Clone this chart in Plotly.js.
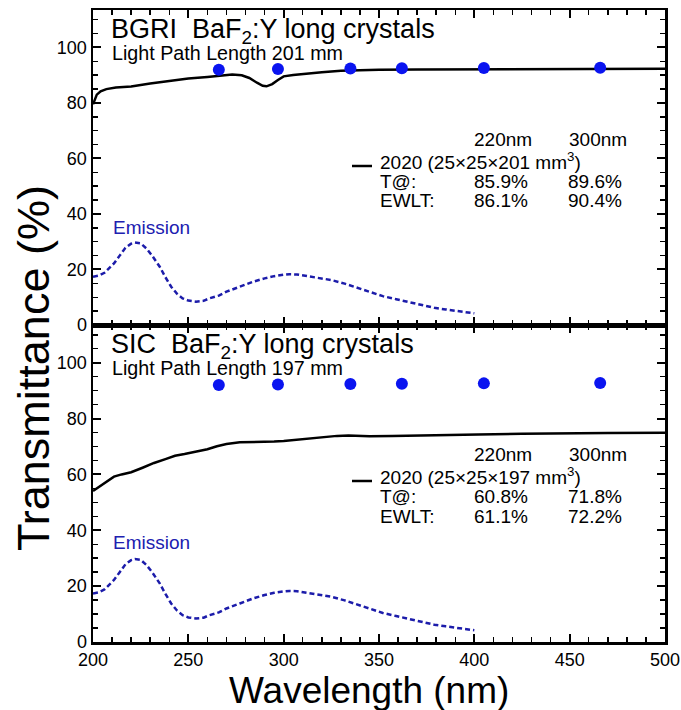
<!DOCTYPE html>
<html><head><meta charset="utf-8">
<script src="https://cdn.plot.ly/plotly-3.0.1.min.js"></script>
<style>body{margin:0;padding:0;background:#fff}</style>
</head><body><div id="chart" style="width:681px;height:710px"></div>
<script>
// Transmittance, BGRI crystal (top panel)
const wlTop = [200, 201, 202, 204, 207, 212, 220, 230, 240, 250, 260, 268, 273, 278, 282, 286, 289, 291, 294, 297, 300, 305, 310, 320, 330, 340, 350, 370, 400, 430, 460, 500];
const transTop = [79.5, 81.5, 83.0, 84.2, 85.0, 85.6, 85.9, 87.0, 88.0, 88.8, 89.4, 89.9, 90.3, 90.0, 89.0, 87.3, 86.2, 86.0, 86.8, 88.3, 89.6, 90.1, 90.5, 91.1, 91.6, 91.8, 92.0, 92.1, 92.1, 92.2, 92.3, 92.3];
// Transmittance, SIC crystal (bottom panel)
const wlBot = [200, 202, 204, 207, 211, 215, 220, 226, 232, 238, 243, 248, 254, 260, 265, 270, 277, 283, 289, 295, 300, 306, 311, 317, 322, 328, 334, 345, 357, 370, 380, 395, 402, 425, 450, 470, 500];
const transBot = [54.1, 55.0, 56.0, 57.5, 59.2, 60.0, 60.8, 62.4, 64.1, 65.5, 66.7, 67.3, 68.1, 69.0, 70.1, 70.9, 71.5, 71.6, 71.5, 71.8, 72.0, 72.4, 72.9, 73.2, 73.6, 73.8, 73.9, 73.7, 73.8, 73.9, 74.2, 74.2, 74.3, 74.6, 74.6, 74.8, 74.9];
// Emission spectrum (arb. units)
const emWl = [200, 203, 206, 208, 211, 214, 217, 220, 222, 225, 228, 231, 235, 238, 241, 244, 247, 250, 254, 258, 261, 266, 270, 277, 284, 290, 295, 300, 303, 307, 311, 318, 325, 332, 338, 345, 352, 359, 366, 372, 379, 385, 391, 396, 400];
const emission = [17.4, 17.8, 18.8, 20.2, 22.2, 25.0, 27.8, 29.3, 29.7, 29.4, 27.6, 25.0, 21.0, 17.2, 13.8, 11.3, 9.6, 8.8, 8.4, 8.7, 9.6, 10.6, 12.0, 13.8, 15.6, 16.8, 17.6, 18.1, 18.3, 18.2, 17.7, 17.0, 16.2, 14.9, 13.5, 12.0, 10.4, 9.3, 8.2, 7.2, 6.2, 5.6, 5.0, 4.6, 4.2];
// Theoretical limit points
const limitWl = [266, 297, 335, 362, 405, 466];
const limitTrans = [92.0, 92.2, 92.4, 92.5, 92.6, 92.7];
// Text
const panelTitles = ["BGRI  BaF<sub>2</sub>:Y long crystals", "SIC  BaF<sub>2</sub>:Y long crystals"];
const pathTexts = ["Light Path Length 201 mm", "Light Path Length 197 mm"];
const sampleTexts = ["2020 (25×25×201 mm<sup>3</sup>)", "2020 (25×25×197 mm<sup>3</sup>)"];
const colHeads = ["220nm", "300nm"];
const tVals = [["85.9%", "89.6%"], ["60.8%", "71.8%"]];
const ewltVals = [["86.1%", "90.4%"], ["61.1%", "72.2%"]];

const W = 681, H = 710, L = 93, R = 665, T = 10, B = 642;
const px = x => (x - L) / (R - L);
const py = y => (B - y) / (B - T);
const split = py(325);

const blackLine = {color: '#000', width: 2.5};
const emLine = {color: '#1c1caa', width: 2.5, dash: '5px,3px'};
const dotMarker = {color: '#0a14f0', size: 12};

const traces = [
  {x: wlTop, y: transTop, xaxis: 'x2', yaxis: 'y2', mode: 'lines', line: blackLine},
  {x: emWl, y: emission, xaxis: 'x2', yaxis: 'y2', mode: 'lines', line: emLine},
  {x: limitWl, y: limitTrans, xaxis: 'x2', yaxis: 'y2', mode: 'markers', marker: dotMarker},
  {x: wlBot, y: transBot, xaxis: 'x', yaxis: 'y', mode: 'lines', line: blackLine},
  {x: emWl, y: emission, xaxis: 'x', yaxis: 'y', mode: 'lines', line: emLine},
  {x: limitWl, y: limitTrans, xaxis: 'x', yaxis: 'y', mode: 'markers', marker: dotMarker}
];

const font = 'Liberation Sans, Arial, sans-serif';
const axBase = {
  showline: true, linewidth: 2.5, linecolor: '#000', mirror: 'ticks',
  ticks: 'inside', ticklen: 8, tickwidth: 2, tickcolor: '#000',
  showgrid: false, zeroline: false,
  tickfont: {family: font, size: 18, color: '#000'},
  minor: {ticks: 'inside', ticklen: 5, tickwidth: 1.5, tickcolor: '#000', showgrid: false}
};
const xBase = Object.assign({}, axBase, {range: [200, 500], tick0: 200, dtick: 50, minor: Object.assign({}, axBase.minor, {dtick: 10})});
const yBase = Object.assign({}, axBase, {range: [0, 113.5], tick0: 0, dtick: 20, minor: Object.assign({}, axBase.minor, {dtick: 5})});

const ann = [];
const shapes = [];
function txt(text, x, y, size, color) {
  ann.push({text: text, x: px(x), y: py(y), xref: 'paper', yref: 'paper', xanchor: 'left', yanchor: 'middle',
    showarrow: false, font: {family: font, size: size, color: color || '#000'}});
}
[0, 1].forEach(i => {
  const d = i * 315;
  txt(panelTitles[i], 109, 31 + d, 27);
  txt(pathTexts[i], 110, 52.5 + d, 19.7);
  txt(colHeads[0], 472, 139 + d, 19);
  txt(colHeads[1], 567, 139 + d, 19);
  txt(sampleTexts[i], 378, 160.5 + d, 19);
  txt("T@:", 378, 181.5 + d, 19);
  txt(tVals[i][0], 472, 181.5 + d, 19);
  txt(tVals[i][1], 566, 181.5 + d, 19);
  txt("EWLT:", 378, 201 + d, 19);
  txt(ewltVals[i][0], 472, 201 + d, 19);
  txt(ewltVals[i][1], 566, 201 + d, 19);
  txt("Emission", 111, 227.5 + d, 19, '#2020b0');
  shapes.push({type: 'line', xref: 'paper', yref: 'paper', x0: px(352), x1: px(372), y0: py(166 + d), y1: py(166 + d), line: {color: '#000', width: 2.5}});
});
ann.push({text: 'Transmittance (%)', x: px(33), y: py(368), xref: 'paper', yref: 'paper', textangle: -90,
  xanchor: 'center', yanchor: 'middle', showarrow: false, font: {family: font, size: 45, color: '#000'}});
ann.push({text: 'Wavelength (nm)', x: px(369), y: py(690), xref: 'paper', yref: 'paper',
  xanchor: 'center', yanchor: 'middle', showarrow: false, font: {family: font, size: 37, color: '#000'}});

const layout = {
  width: W, height: H, showlegend: false,
  margin: {l: L, r: W - R, t: T, b: H - B, pad: 0},
  paper_bgcolor: '#fff', plot_bgcolor: '#fff',
  xaxis: Object.assign({}, xBase, {anchor: 'y'}),
  yaxis: Object.assign({}, yBase, {anchor: 'x', domain: [0, split]}),
  xaxis2: Object.assign({}, xBase, {anchor: 'y2', matches: 'x', showticklabels: false}),
  yaxis2: Object.assign({}, yBase, {anchor: 'x2', domain: [split, 1]}),
  annotations: ann, shapes: shapes
};
Plotly.newPlot('chart', traces, layout, {displayModeBar: false, staticPlot: true});
</script></body></html>
